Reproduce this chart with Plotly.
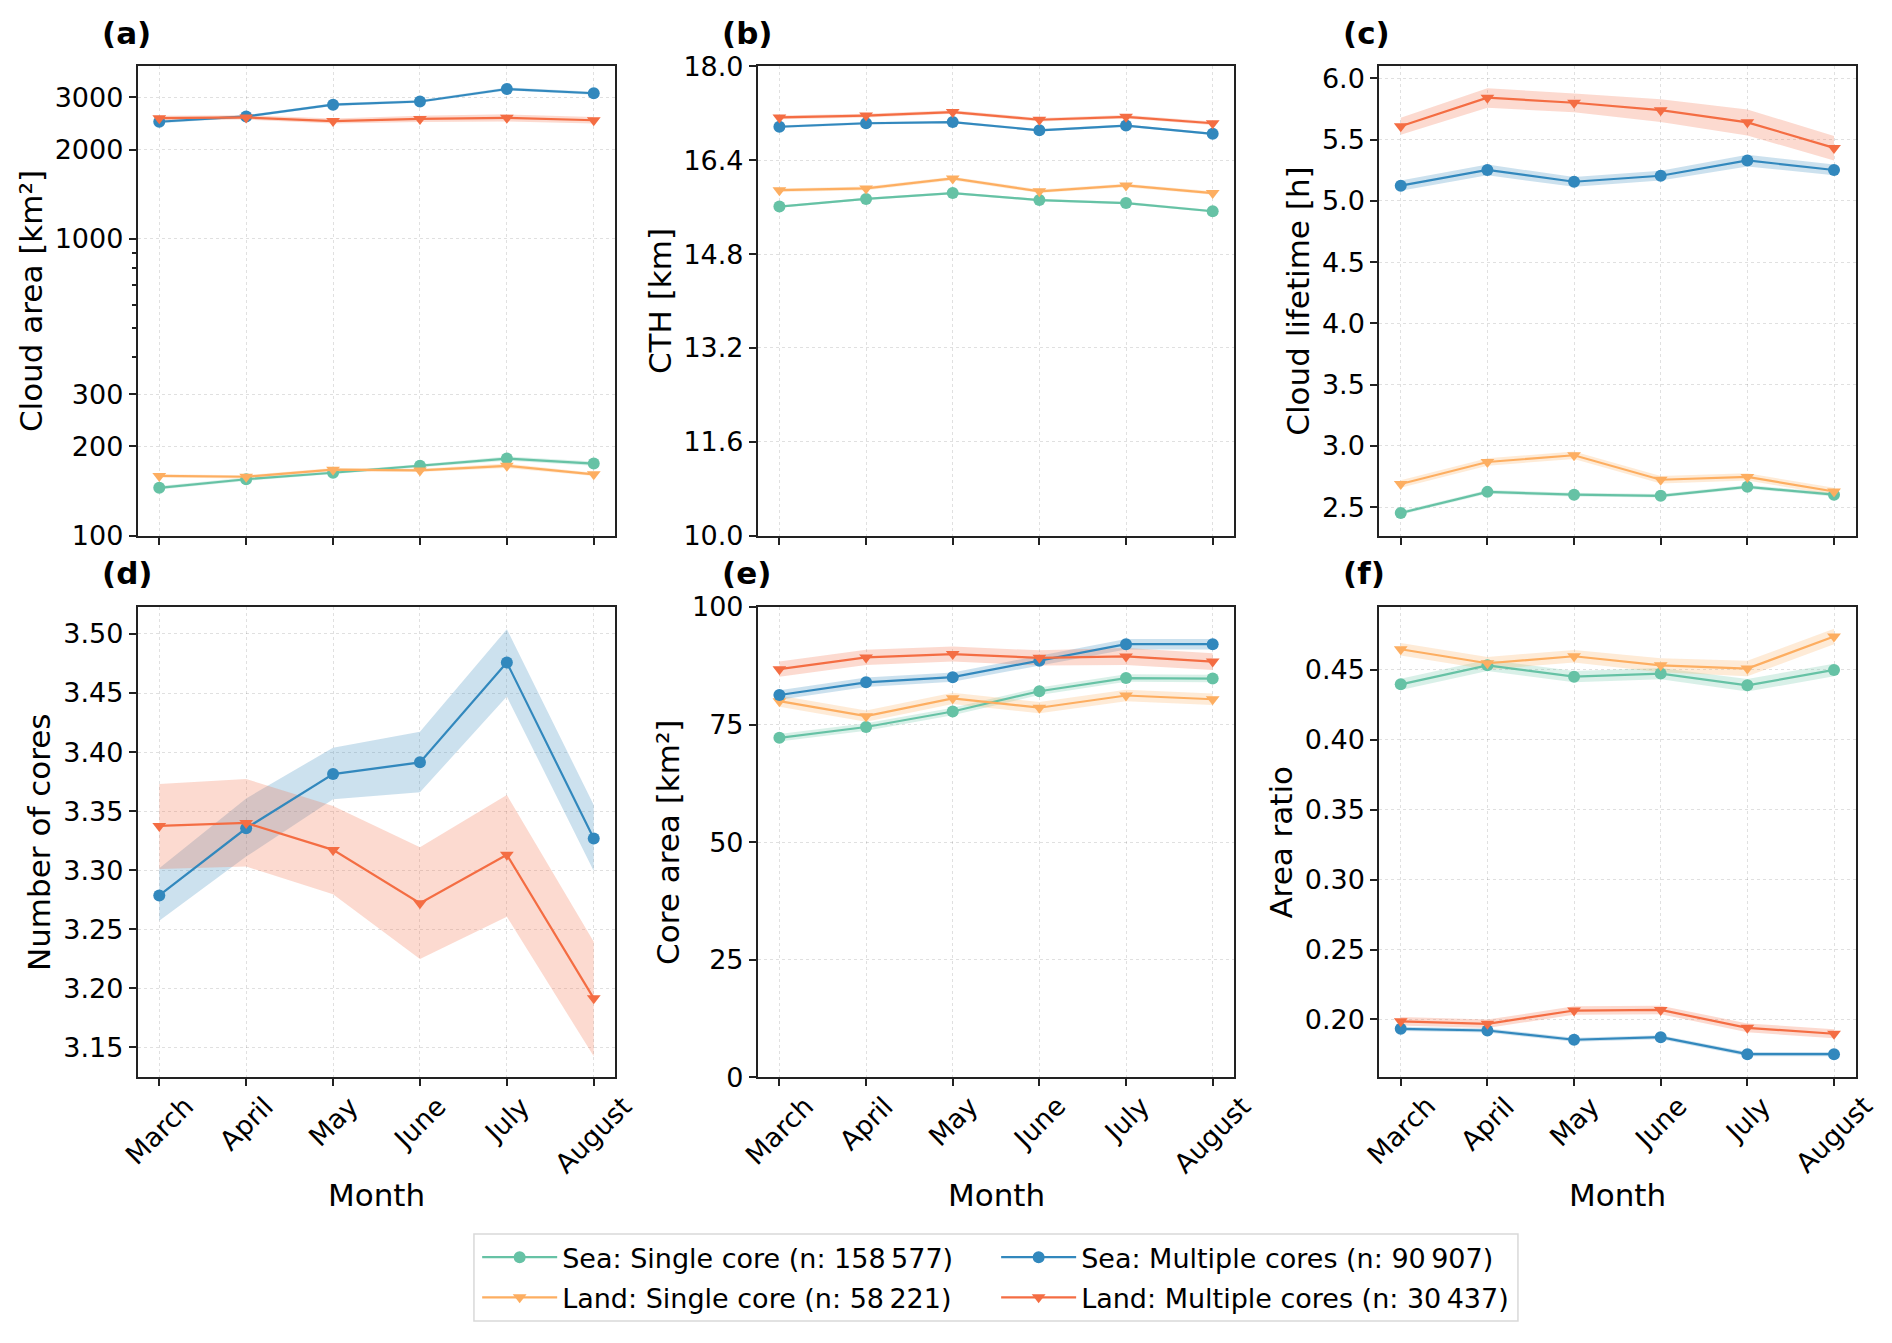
import plotly.graph_objects as go

months = ["March", "April", "May", "June", "July", "August"]

series_names = {
    "sea_single": "Sea: Single core (n: 158\u2009577)",
    "sea_multi": "Sea: Multiple cores (n: 90\u2009907)",
    "land_single": "Land: Single core (n: 58\u2009221)",
    "land_multi": "Land: Multiple cores (n: 30\u2009437)",
}
colors = {"sea_single": "#66c2a5", "sea_multi": "#3288bd", "land_single": "#fdae61", "land_multi": "#f46d43"}
fills = {"sea_single": "rgba(102,194,165,0.25)", "sea_multi": "rgba(50,136,189,0.25)",
         "land_single": "rgba(253,174,97,0.25)", "land_multi": "rgba(244,109,67,0.25)"}
symbols = {"sea_single": "circle", "sea_multi": "circle", "land_single": "triangle-down", "land_multi": "triangle-down"}
legend_of = {"sea_single": "legend", "land_single": "legend", "sea_multi": "legend2", "land_multi": "legend2"}

# (a) Cloud area [km2]
a_sea_single = [145, 155, 163, 172, 182, 175]
a_sea_single_lo = [143, 153, 161, 170, 179, 172]
a_sea_single_hi = [147, 157, 165, 174, 185, 178]
a_land_single = [159, 158, 167, 166, 172, 161]
a_land_single_lo = [157, 156, 165, 164, 169, 159]
a_land_single_hi = [161, 160, 169, 168, 175, 163]
a_sea_multi = [2483, 2588, 2835, 2906, 3202, 3097]
a_sea_multi_lo = [2455, 2560, 2805, 2875, 3165, 3060]
a_sea_multi_hi = [2510, 2615, 2865, 2937, 3240, 3135]
a_land_multi = [2552, 2567, 2497, 2539, 2559, 2512]
a_land_multi_lo = [2505, 2525, 2450, 2480, 2490, 2450]
a_land_multi_hi = [2600, 2610, 2545, 2600, 2630, 2575]

# (b) CTH [km]
b_sea_single = [15.61, 15.74, 15.84, 15.72, 15.67, 15.53]
b_sea_single_lo = [15.59, 15.72, 15.82, 15.70, 15.65, 15.51]
b_sea_single_hi = [15.63, 15.76, 15.86, 15.74, 15.69, 15.55]
b_land_single = [15.89, 15.92, 16.09, 15.87, 15.97, 15.84]
b_land_single_lo = [15.86, 15.89, 16.06, 15.84, 15.94, 15.81]
b_land_single_hi = [15.92, 15.95, 16.12, 15.90, 16.00, 15.87]
b_sea_multi = [16.97, 17.03, 17.05, 16.91, 16.99, 16.85]
b_sea_multi_lo = [16.95, 17.01, 17.03, 16.89, 16.97, 16.83]
b_sea_multi_hi = [16.99, 17.05, 17.07, 16.93, 17.01, 16.87]
b_land_multi = [17.13, 17.16, 17.22, 17.09, 17.14, 17.03]
b_land_multi_lo = [17.10, 17.13, 17.19, 17.06, 17.11, 17.00]
b_land_multi_hi = [17.16, 17.19, 17.25, 17.12, 17.17, 17.06]

# (c) Cloud lifetime [h]
c_sea_single = [2.453, 2.625, 2.602, 2.593, 2.666, 2.602]
c_sea_single_lo = [2.438, 2.610, 2.587, 2.578, 2.651, 2.587]
c_sea_single_hi = [2.468, 2.640, 2.617, 2.608, 2.681, 2.617]
c_land_single = [2.689, 2.869, 2.924, 2.724, 2.747, 2.628]
c_land_single_lo = [2.659, 2.839, 2.894, 2.694, 2.717, 2.598]
c_land_single_hi = [2.719, 2.899, 2.954, 2.754, 2.777, 2.658]
c_sea_multi = [5.125, 5.253, 5.157, 5.206, 5.331, 5.253]
c_sea_multi_lo = [5.084, 5.209, 5.116, 5.166, 5.282, 5.209]
c_sea_multi_hi = [5.166, 5.297, 5.195, 5.247, 5.378, 5.297]
c_land_multi = [5.610, 5.843, 5.802, 5.741, 5.642, 5.433]
c_land_multi_lo = [5.540, 5.760, 5.724, 5.645, 5.535, 5.330]
c_land_multi_hi = [5.680, 5.920, 5.878, 5.830, 5.747, 5.530]

# (d) Number of cores (multiple-core clouds only)
d_sea_multi = [3.2786, 3.3355, 3.3814, 3.3913, 3.4758, 3.3268]
d_sea_multi_lo = [3.2572, 3.3115, 3.3600, 3.3660, 3.4470, 3.2994]
d_sea_multi_hi = [3.3017, 3.3608, 3.4037, 3.4172, 3.5040, 3.3552]
d_land_multi = [3.3375, 3.3400, 3.3172, 3.2721, 3.3130, 3.1915]
d_land_multi_lo = [3.3011, 3.3031, 3.2797, 3.2248, 3.2606, 3.1424]
d_land_multi_hi = [3.3730, 3.3772, 3.3544, 3.3194, 3.3637, 3.2395]

# (e) Core area [km2]
e_sea_single = [72.2, 74.5, 77.8, 82.1, 84.9, 84.8]
e_sea_single_lo = [71.4, 73.7, 77.0, 81.3, 84.1, 84.0]
e_sea_single_hi = [73.0, 75.3, 78.6, 82.9, 85.7, 85.6]
e_land_single = [80.0, 76.8, 80.6, 78.6, 81.2, 80.4]
e_land_single_lo = [78.8, 75.6, 79.4, 77.4, 80.0, 79.2]
e_land_single_hi = [81.2, 78.0, 81.8, 79.8, 82.4, 81.6]
e_sea_multi = [81.3, 84.0, 85.1, 88.6, 92.1, 92.1]
e_sea_multi_lo = [80.3, 83.0, 84.1, 87.6, 91.0, 91.0]
e_sea_multi_hi = [82.3, 85.0, 86.1, 89.6, 93.2, 93.2]
e_land_multi = [86.8, 89.3, 90.0, 89.2, 89.5, 88.4]
e_land_multi_lo = [85.2, 87.7, 88.4, 87.6, 87.7, 86.6]
e_land_multi_hi = [88.4, 90.9, 91.6, 90.8, 91.3, 90.2]

# (f) Area ratio
f_sea_single = [0.4397, 0.4533, 0.4452, 0.4474, 0.4390, 0.4500]
f_sea_single_lo = [0.4357, 0.4493, 0.4412, 0.4434, 0.4345, 0.4455]
f_sea_single_hi = [0.4437, 0.4573, 0.4492, 0.4514, 0.4435, 0.4545]
f_land_single = [0.4648, 0.4548, 0.4598, 0.4533, 0.4510, 0.4739]
f_land_single_lo = [0.4603, 0.4503, 0.4553, 0.4483, 0.4455, 0.4684]
f_land_single_hi = [0.4693, 0.4593, 0.4643, 0.4583, 0.4565, 0.4794]
f_sea_multi = [0.1933, 0.1921, 0.1855, 0.1873, 0.1752, 0.1752]
f_sea_multi_lo = [0.1918, 0.1906, 0.1840, 0.1858, 0.1737, 0.1737]
f_sea_multi_hi = [0.1948, 0.1936, 0.1870, 0.1888, 0.1767, 0.1767]
f_land_multi = [0.1987, 0.1969, 0.2064, 0.2068, 0.1940, 0.1898]
f_land_multi_lo = [0.1957, 0.1939, 0.2034, 0.2038, 0.1908, 0.1866]
f_land_multi_hi = [0.2017, 0.1999, 0.2094, 0.2098, 0.1972, 0.1930]

# tick labels
a_ticks = [100, 200, 300, 1000, 2000, 3000]
a_minor = [400, 500, 600, 700, 800, 900]
b_ticks = [10.0, 11.6, 13.2, 14.8, 16.4, 18.0]
c_ticks = [2.5, 3.0, 3.5, 4.0, 4.5, 5.0, 5.5, 6.0]
d_ticks = [3.15, 3.20, 3.25, 3.30, 3.35, 3.40, 3.45, 3.50]
e_ticks = [0, 25, 50, 75, 100]
f_ticks = [0.20, 0.25, 0.30, 0.35, 0.40, 0.45]

panels = [
    ("(a)", "Cloud area [km²]", {
        "sea_single": (a_sea_single, a_sea_single_lo, a_sea_single_hi),
        "land_single": (a_land_single, a_land_single_lo, a_land_single_hi),
        "sea_multi": (a_sea_multi, a_sea_multi_lo, a_sea_multi_hi),
        "land_multi": (a_land_multi, a_land_multi_lo, a_land_multi_hi)}),
    ("(b)", "CTH [km]", {
        "sea_single": (b_sea_single, b_sea_single_lo, b_sea_single_hi),
        "land_single": (b_land_single, b_land_single_lo, b_land_single_hi),
        "sea_multi": (b_sea_multi, b_sea_multi_lo, b_sea_multi_hi),
        "land_multi": (b_land_multi, b_land_multi_lo, b_land_multi_hi)}),
    ("(c)", "Cloud lifetime [h]", {
        "sea_single": (c_sea_single, c_sea_single_lo, c_sea_single_hi),
        "land_single": (c_land_single, c_land_single_lo, c_land_single_hi),
        "sea_multi": (c_sea_multi, c_sea_multi_lo, c_sea_multi_hi),
        "land_multi": (c_land_multi, c_land_multi_lo, c_land_multi_hi)}),
    ("(d)", "Number of cores", {
        "sea_multi": (d_sea_multi, d_sea_multi_lo, d_sea_multi_hi),
        "land_multi": (d_land_multi, d_land_multi_lo, d_land_multi_hi)}),
    ("(e)", "Core area [km²]", {
        "sea_single": (e_sea_single, e_sea_single_lo, e_sea_single_hi),
        "land_single": (e_land_single, e_land_single_lo, e_land_single_hi),
        "sea_multi": (e_sea_multi, e_sea_multi_lo, e_sea_multi_hi),
        "land_multi": (e_land_multi, e_land_multi_lo, e_land_multi_hi)}),
    ("(f)", "Area ratio", {
        "sea_single": (f_sea_single, f_sea_single_lo, f_sea_single_hi),
        "land_single": (f_land_single, f_land_single_lo, f_land_single_hi),
        "sea_multi": (f_sea_multi, f_sea_multi_lo, f_sea_multi_hi),
        "land_multi": (f_land_multi, f_land_multi_lo, f_land_multi_hi)}),
]

FONT = "DejaVu Sans"
W, H = 1892, 1343
TICK_FS, TITLE_FS, LEG_FS, PANEL_FS = 27, 31, 27, 31
xdoms = [[0.0727, 0.3253], [0.4005, 0.6524], [0.7289, 0.9808]]
ydoms = [[0.6011, 0.9506], [0.1977, 0.5480]]

fig = go.Figure()
draw_order = ["sea_single", "land_single", "sea_multi", "land_multi"]

for i, (label, ytitle, data) in enumerate(panels):
    n = i + 1
    xa = "x" if n == 1 else f"x{n}"
    ya = "y" if n == 1 else f"y{n}"
    for key in draw_order:
        if key not in data:
            continue
        mid, lo, hi = data[key]
        fig.add_trace(go.Scatter(
            x=months + months[::-1], y=list(hi) + list(lo)[::-1],
            fill="toself", fillcolor=fills[key], line=dict(width=0),
            mode="lines", hoverinfo="skip", showlegend=False, xaxis=xa, yaxis=ya))
    for key in draw_order:
        if key not in data:
            continue
        mid, lo, hi = data[key]
        fig.add_trace(go.Scatter(
            x=months, y=mid, mode="lines+markers", name=series_names[key],
            line=dict(color=colors[key], width=2.2),
            marker=dict(symbol=symbols[key], size=12, color=colors[key]),
            legend=legend_of[key], legendgroup=key,
            showlegend=(n == 1), xaxis=xa, yaxis=ya))
    fig.add_annotation(text=f"<b>{label}</b>", xref=f"{xa} domain", yref=f"{ya} domain",
                       x=-0.079, y=1.072, xanchor="left", yanchor="middle", showarrow=False,
                       font=dict(family=FONT, size=PANEL_FS, color="black"))
    if i >= 3:
        # rotated month labels, centred under each tick like the reference
        for m in months:
            fig.add_annotation(text=m, xref=xa, yref=f"{ya} domain", x=m, y=0, yshift=-10,
                               xanchor="center", yanchor="top", textangle=-45, showarrow=False,
                               font=dict(family=FONT, size=TICK_FS, color="black"))
        fig.add_annotation(text="Month", xref=f"{xa} domain", yref=f"{ya} domain",
                           x=0.5, y=-0.249, xanchor="center", yanchor="middle", showarrow=False,
                           font=dict(family=FONT, size=TITLE_FS, color="black"))

axis_common = dict(showline=True, linecolor="#222222", linewidth=1.6, mirror=True,
                   ticks="outside", ticklen=7, tickwidth=1.5, tickcolor="#222222",
                   showgrid=True, gridcolor="rgba(0,0,0,0.12)", griddash="dot", gridwidth=1,
                   zeroline=False, automargin=False,
                   tickfont=dict(family=FONT, size=TICK_FS, color="black"))

layout = {}
yspecs = [
    dict(type="log", range=[2.0, 3.5817], tickvals=a_ticks, ticktext=[str(v) for v in a_ticks],
         minor=dict(tickvals=a_minor, ticks="outside", ticklen=4, tickcolor="#222222", showgrid=False)),
    dict(range=[10.0, 18.0], tickvals=b_ticks, ticktext=[f"{v:.1f}" for v in b_ticks]),
    dict(range=[2.267, 6.099], tickvals=c_ticks, ticktext=[f"{v:.1f}" for v in c_ticks]),
    dict(range=[3.1245, 3.5228], tickvals=d_ticks, ticktext=[f"{v:.2f}" for v in d_ticks]),
    dict(range=[0, 100], tickvals=e_ticks, ticktext=[str(v) for v in e_ticks]),
    dict(range=[0.1585, 0.495], tickvals=f_ticks, ticktext=[f"{v:.2f}" for v in f_ticks]),
]
for i in range(6):
    n = i + 1
    r, c = divmod(i, 3)
    xk = "xaxis" if n == 1 else f"xaxis{n}"
    yk = "yaxis" if n == 1 else f"yaxis{n}"
    ya = "y" if n == 1 else f"y{n}"
    xa = "x" if n == 1 else f"x{n}"
    xax = dict(axis_common, domain=xdoms[c], anchor=ya, type="category",
               categoryorder="array", categoryarray=months, range=[-0.25, 5.25],
               showticklabels=False)
    yax = dict(axis_common, domain=ydoms[r], anchor=xa,
               title=dict(text=panels[i][1], font=dict(family=FONT, size=TITLE_FS, color="black"), standoff=3))
    yax.update(yspecs[i])
    layout[xk] = xax
    layout[yk] = yax

fig.update_layout(**layout)
leg_common = dict(orientation="v", yanchor="top", xanchor="left", itemwidth=75,
                  bgcolor="rgba(0,0,0,0)", borderwidth=0, tracegroupgap=2,
                  font=dict(family=FONT, size=LEG_FS, color="black"))
fig.update_layout(
    template="none",
    width=W, height=H, margin=dict(l=0, r=0, t=0, b=0),
    paper_bgcolor="white", plot_bgcolor="white",
    font=dict(family=FONT, size=TICK_FS, color="black"),
    legend=dict(leg_common, x=0.2522, y=0.0818),
    legend2=dict(leg_common, x=0.5265, y=0.0818),
)
fig.add_shape(type="rect", xref="paper", yref="paper", x0=0.2505, x1=0.8023, y0=0.0164, y1=0.0812,
              line=dict(color="#d9d9d9", width=1.5), fillcolor="rgba(0,0,0,0)", layer="below")

fig.write_html("out.html", config={"displayModeBar": False},
               post_script="document.body.style.margin='0px';")
